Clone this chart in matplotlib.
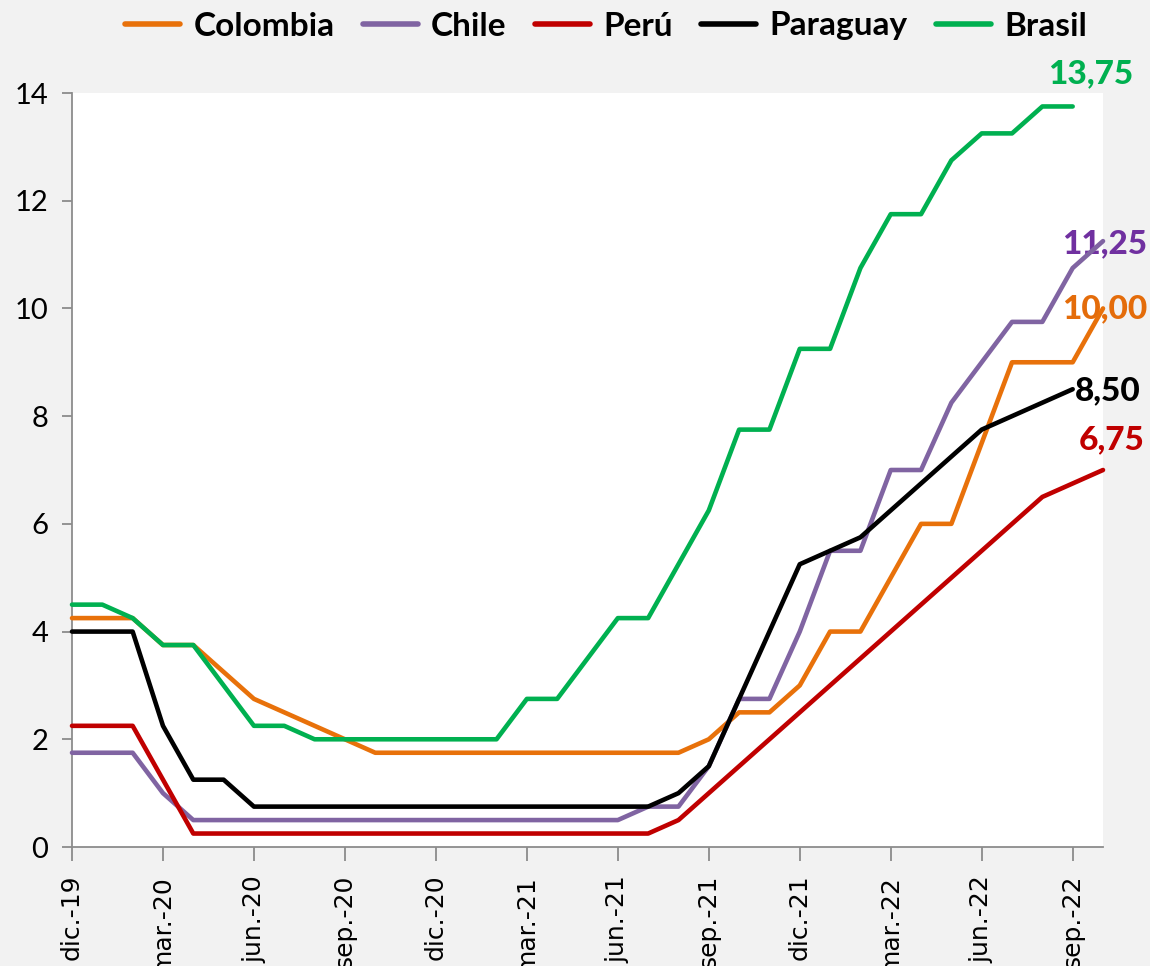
import matplotlib
matplotlib.use("Agg")
import matplotlib.pyplot as plt
import numpy as np

# Tasas de política monetaria, mensual dic-19 .. oct-22
meses = ["dic.-19", "ene.-20", "feb.-20", "mar.-20", "abr.-20", "may.-20", "jun.-20",
         "jul.-20", "ago.-20", "sep.-20", "oct.-20", "nov.-20", "dic.-20", "ene.-21",
         "feb.-21", "mar.-21", "abr.-21", "may.-21", "jun.-21", "jul.-21", "ago.-21",
         "sep.-21", "oct.-21", "nov.-21", "dic.-21", "ene.-22", "feb.-22", "mar.-22",
         "abr.-22", "may.-22", "jun.-22", "jul.-22", "ago.-22", "sep.-22", "oct.-22"]

colombia = [4.25, 4.25, 4.25, 3.75, 3.75, 3.25, 2.75, 2.5, 2.25, 2.0, 1.75, 1.75, 1.75,
            1.75, 1.75, 1.75, 1.75, 1.75, 1.75, 1.75, 1.75, 2.0, 2.5, 2.5, 3.0, 4.0, 4.0,
            5.0, 6.0, 6.0, 7.5, 9.0, 9.0, 9.0, 10.0]
chile = [1.75, 1.75, 1.75, 1.0, 0.5, 0.5, 0.5, 0.5, 0.5, 0.5, 0.5, 0.5, 0.5, 0.5, 0.5,
         0.5, 0.5, 0.5, 0.5, 0.75, 0.75, 1.5, 2.75, 2.75, 4.0, 5.5, 5.5, 7.0, 7.0, 8.25,
         9.0, 9.75, 9.75, 10.75, 11.25]
peru = [2.25, 2.25, 2.25, 1.25, 0.25, 0.25, 0.25, 0.25, 0.25, 0.25, 0.25, 0.25, 0.25,
        0.25, 0.25, 0.25, 0.25, 0.25, 0.25, 0.25, 0.5, 1.0, 1.5, 2.0, 2.5, 3.0, 3.5, 4.0,
        4.5, 5.0, 5.5, 6.0, 6.5, 6.75, 7.0]
paraguay = [4.0, 4.0, 4.0, 2.25, 1.25, 1.25, 0.75, 0.75, 0.75, 0.75, 0.75, 0.75, 0.75,
            0.75, 0.75, 0.75, 0.75, 0.75, 0.75, 0.75, 1.0, 1.5, 2.75, 4.0, 5.25, 5.5, 5.75,
            6.25, 6.75, 7.25, 7.75, 8.0, 8.25, 8.5, np.nan]
brasil = [4.5, 4.5, 4.25, 3.75, 3.75, 3.0, 2.25, 2.25, 2.0, 2.0, 2.0, 2.0, 2.0, 2.0, 2.0,
          2.75, 2.75, 3.5, 4.25, 4.25, 5.25, 6.25, 7.75, 7.75, 9.25, 9.25, 10.75, 11.75,
          11.75, 12.75, 13.25, 13.25, 13.75, 13.75, np.nan]

etiquetas = ["13,75", "11,25", "10,00", "8,50", "6,75"]

series = [("Colombia", colombia, "#E8710A"),
          ("Chile", chile, "#8064A2"),
          ("Perú", peru, "#C00000"),
          ("Paraguay", paraguay, "#000000"),
          ("Brasil", brasil, "#00B050")]

fig = plt.figure(figsize=(11.5, 9.66), dpi=100, facecolor="#F2F2F2")
ax = fig.add_axes([72 / 1150, 1 - 847 / 966, (1103 - 72) / 1150, (847 - 93) / 966])
ax.set_facecolor("white")

x = np.arange(len(meses))
for nombre, vals, col in series:
    ax.plot(x, vals, color=col, lw=3.3, label=nombre, solid_joinstyle="round",
            solid_capstyle="round", zorder=3, clip_on=False)

ax.set_xlim(0, len(meses) - 1)
ax.set_ylim(0, 14)
ax.set_yticks(range(0, 15, 2))
ax.set_yticklabels([str(v) for v in range(0, 15, 2)], fontsize=21, family="Lato")
ax.set_xticks(x[::3])
ax.set_xticklabels(meses[::3], rotation=90, fontsize=18, family="DejaVu Sans")
ax.tick_params(axis="y", length=7, color="#8C8C8C", width=1.3, pad=10)
ax.tick_params(axis="x", length=10, color="#8C8C8C", width=1.3, pad=10)

for s in ["top", "right"]:
    ax.spines[s].set_visible(False)
for s in ["left", "bottom"]:
    ax.spines[s].set_color("#8C8C8C")
    ax.spines[s].set_linewidth(1.3)

# etiquetas de valor final (debajo de las líneas)
lab_cols = ["#00B050", "#7030A0", "#E46C0A", "#000000", "#C00000"]
lab_x = [33.6, 34.05, 34.05, 34.15, 34.3]
lab_y = [14.36, 11.2, 9.99, 8.47, 7.56]
for t, c, lx, ly in zip(etiquetas, lab_cols, lab_x, lab_y):
    ax.text(lx, ly, t, color=c, fontsize=24, fontweight="black", family="Lato",
            ha="center", va="center", clip_on=False, zorder=2)

leg = fig.legend(loc="center", bbox_to_anchor=(0.527, 1 - 26 / 966), ncol=5,
                 frameon=False, prop={"family": "Lato", "weight": "bold", "size": 24},
                 handlelength=1.65, columnspacing=0.85, handletextpad=0.4)
for h in leg.legend_handles:
    h.set_linewidth(4)

fig.savefig("out.png", dpi=100, facecolor=fig.get_facecolor())
